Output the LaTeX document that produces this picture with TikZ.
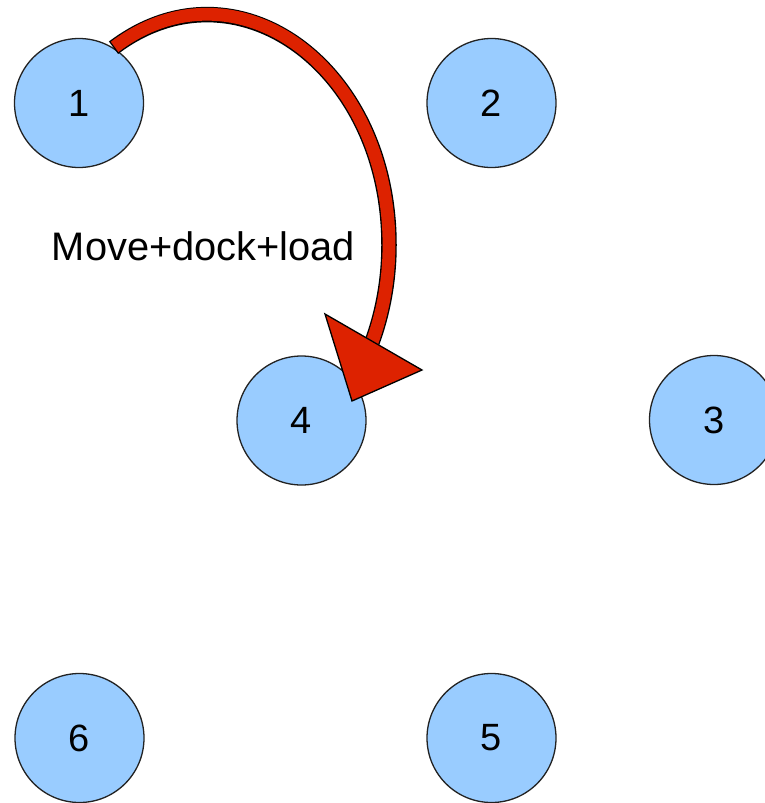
\documentclass[tikz,border=0pt]{standalone}
\usepackage{fontspec}
\setmainfont{Liberation Sans}
\definecolor{ballblue}{HTML}{99CCFF}
\definecolor{arrowred}{HTML}{DD2200}
\definecolor{edgegray}{HTML}{222222}
\begin{document}
\begin{tikzpicture}[x=1pt,y=-1pt,
  ball/.style={circle,draw=edgegray,line width=1.3pt,fill=ballblue,minimum size=129pt,inner sep=0pt,
    font=\fontsize{38}{46}\selectfont},
  shaftout/.style={draw=black,line width=15.5pt},
  shaftin/.style={draw=arrowred,line width=12.8pt,shorten <=1.4pt},
  headstyle/.style={fill=arrowred,draw=black,line width=1.3pt,line join=miter},
  lbl/.style={font=\fontsize{39.8}{48}\selectfont,anchor=base,inner sep=0pt}]
\useasboundingbox (0,0) rectangle (765,803);
\clip (0,0) rectangle (765,803);
\fill[white] (0,0) rectangle (765,803);
\node[ball] (n1) at (79,103) {1};
\node[ball] (n2) at (491.5,103) {2};
\node[ball] (n4) at (301.5,420.5) {4};
\node[ball] (n3) at (714,420) {3};
\node[ball] (n6) at (79.5,738) {6};
\node[ball] (n5) at (491.5,738) {5};
\node[lbl] (lab) at (203.5,260) {Move+dock+load};
\coordinate (am) at (389,245);
\coordinate (ab) at (372,342.2);
\coordinate (t1) at (325,314);
\coordinate (t2) at (422,370);
\coordinate (tip) at (352,401);
\draw[shaftout] (n1.58) .. controls (235.4,-44.3) and (389,66.2) .. (am)
  .. controls (389,278.6) and (383.2,311.8) .. (ab);
\draw[shaftin] (n1.58) .. controls (235.4,-44.3) and (389,66.2) .. (am)
  .. controls (389,278.6) and (383.2,311.8) .. (ab);
\draw[headstyle] (t1) -- (t2) -- (tip) -- cycle;
\end{tikzpicture}
\end{document}
